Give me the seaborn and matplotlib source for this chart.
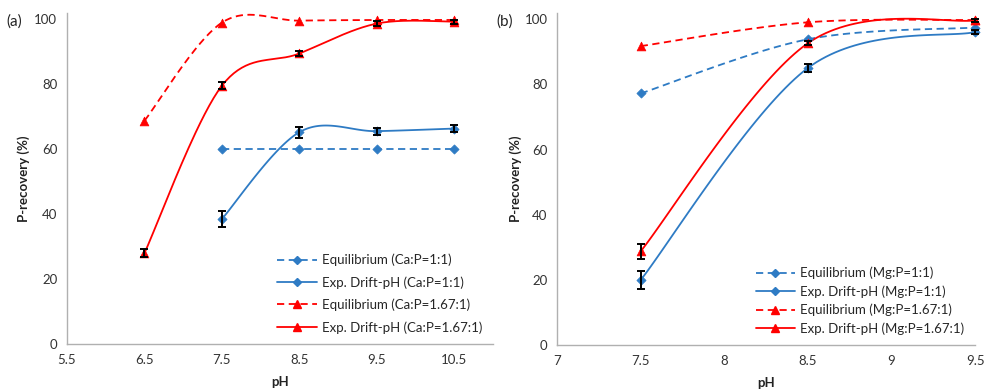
import numpy as np
import pandas as pd
import matplotlib
matplotlib.use("Agg")
import matplotlib.pyplot as plt
from matplotlib.lines import Line2D
import seaborn as sns

# ---- data ----
ph_a = [6.5, 7.5, 8.5, 9.5, 10.5]
eq_ca_1 = [np.nan, 60.0, 60.0, 60.0, 60.0]
exp_ca_1 = [np.nan, 38.5, 65.2, 65.5, 66.3]
exp_ca_1_err = [np.nan, 2.5, 1.7, 1.1, 1.2]
eq_ca_167 = [68.7, 98.9, 99.5, 99.7, 99.7]
exp_ca_167 = [28.0, 79.5, 89.4, 98.6, 99.2]
exp_ca_167_err = [1.2, 1.0, 0.9, 0.8, 0.6]

ph_b = [7.5, 8.5, 9.5]
eq_mg_1 = [77.2, 93.8, 97.4]
exp_mg_1 = [20.0, 85.0, 96.0]
exp_mg_1_err = [2.8, 1.3, 0.5]
eq_mg_167 = [91.7, 99.0, 99.7]
exp_mg_167 = [28.8, 92.6, 99.6]
exp_mg_167_err = [2.3, 0.6, 0.4]

labels_a = ["Equilibrium (Ca:P=1:1)", "Exp. Drift-pH (Ca:P=1:1)",
            "Equilibrium (Ca:P=1.67:1)", "Exp. Drift-pH (Ca:P=1.67:1)"]
labels_b = ["Equilibrium (Mg:P=1:1)", "Exp. Drift-pH (Mg:P=1:1)",
            "Equilibrium (Mg:P=1.67:1)", "Exp. Drift-pH (Mg:P=1.67:1)"]

BLUE = "#2E7BC4"
RED = "#FF0000"
GRID = "#B0B0B0"
FS = 9.5


def smooth(x, y, n=40):
    # Excel-style smoothed line (Catmull-Rom as cubic Bezier)
    pts = np.array([(a, b) for a, b in zip(x, y) if not np.isnan(b)])
    if len(pts) < 3:
        return pts[:, 0], pts[:, 1]
    out = []
    t = np.linspace(0, 1, n)[:, None]
    for i in range(len(pts) - 1):
        p0 = pts[max(i - 1, 0)]
        p1 = pts[i]
        p2 = pts[i + 1]
        p3 = pts[min(i + 2, len(pts) - 1)]
        b1 = p1 + (p2 - p0) / 6
        b2 = p2 - (p3 - p1) / 6
        seg = ((1 - t) ** 3) * p1 + 3 * ((1 - t) ** 2) * t * b1 + 3 * (1 - t) * t ** 2 * b2 + t ** 3 * p2
        out.append(seg if i == 0 else seg[1:])
    out = np.vstack(out)
    return out[:, 0], out[:, 1]


sns.set_style("white")
plt.rcParams["font.family"] = ["Lato", "DejaVu Sans"]

fig = plt.figure(figsize=(9.86, 3.91), dpi=100)
ax_a = fig.add_axes([0.068, 0.120, 0.432, 0.848])
ax_b = fig.add_axes([0.565, 0.117, 0.424, 0.851])


def draw_series(ax, x, y, err, color, marker, ls, ms):
    sx, sy = smooth(x, y)
    ax.plot(sx, sy, color=color, ls=ls, lw=1.3, dashes=(4, 2.5) if ls == "--" else (None, None),
            clip_on=False, zorder=2)
    df = pd.DataFrame({"x": x, "y": y}).dropna()
    if err is not None:
        e = pd.DataFrame({"x": x, "y": y, "e": err}).dropna()
        ax.errorbar(e["x"], e["y"], yerr=e["e"], fmt="none", ecolor="black",
                    elinewidth=1.4, capsize=3, capthick=1.4, zorder=4, clip_on=False)
    sns.scatterplot(data=df, x="x", y="y", ax=ax, marker=marker, color=color,
                    s=ms, edgecolor=color, linewidth=0.5, zorder=3, legend=False, clip_on=False)


def legend_handles(labels):
    styles = [(BLUE, "D", "--", 4), (BLUE, "D", "-", 4), (RED, "^", "--", 5.5), (RED, "^", "-", 5.5)]
    hs = []
    for (c, m, ls, ms), lab in zip(styles, labels):
        hs.append(Line2D([], [], color=c, marker=m, ls=ls, lw=1.3, ms=ms, label=lab,
                         dashes=(4, 2.5) if ls == "--" else (None, None)))
    return hs


draw_series(ax_a, ph_a, eq_ca_1, None, BLUE, "D", "--", 22)
draw_series(ax_a, ph_a, exp_ca_1, exp_ca_1_err, BLUE, "D", "-", 22)
draw_series(ax_a, ph_a, eq_ca_167, None, RED, "^", "--", 40)
draw_series(ax_a, ph_a, exp_ca_167, exp_ca_167_err, RED, "^", "-", 40)

draw_series(ax_b, ph_b, eq_mg_1, None, BLUE, "D", "--", 22)
draw_series(ax_b, ph_b, exp_mg_1, exp_mg_1_err, BLUE, "D", "-", 22)
draw_series(ax_b, ph_b, eq_mg_167, None, RED, "^", "--", 40)
draw_series(ax_b, ph_b, exp_mg_167, exp_mg_167_err, RED, "^", "-", 40)

ax_a.set_xlim(5.5, 11.0)
ax_a.set_xticks([5.5, 6.5, 7.5, 8.5, 9.5, 10.5])
ax_b.set_xlim(7.0, 9.5)
ax_b.set_xticks([7, 7.5, 8, 8.5, 9, 9.5])
ax_b.set_xticklabels(["7", "7.5", "8", "8.5", "9", "9.5"])

panels = [(ax_a, labels_a, (1.0, 0.0), 3, 0.75), (ax_b, labels_b, (1.0, 0.0), 2, 0.45)]
for ax, labs, bbox, lp, ls in panels:
    ax.set_ylim(0, 102)
    ax.set_yticks([0, 20, 40, 60, 80, 100])
    ax.set_xlabel("pH", fontsize=FS, fontweight="bold", color="#222222", labelpad=7)
    ax.set_ylabel("P-recovery (%)", fontsize=FS, fontweight="bold", color="#222222", labelpad=lp)
    for s in ["top", "right"]:
        ax.spines[s].set_visible(False)
    for s in ["left", "bottom"]:
        ax.spines[s].set_color(GRID)
        ax.spines[s].set_linewidth(1.0)
    ax.tick_params(axis="both", which="major", direction="out", length=3, width=1.0,
                   color=GRID, labelsize=FS, labelcolor="#333333", pad=4)
    ax.legend(handles=legend_handles(labs), loc="lower right", bbox_to_anchor=bbox,
              frameon=False, fontsize=FS, handlelength=3.0, labelspacing=ls,
              handletextpad=0.4, borderaxespad=0.4)

fig.text(0.006, 0.935, "(a)", fontsize=11, color="#222222")
fig.text(0.503, 0.935, "(b)", fontsize=11, color="#222222")

fig.savefig("out.png", dpi=100)
